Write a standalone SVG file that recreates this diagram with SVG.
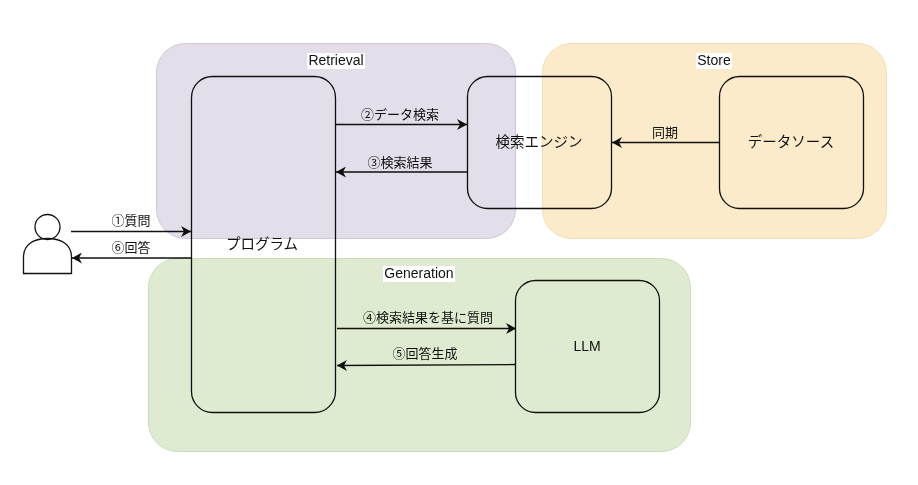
<svg xmlns="http://www.w3.org/2000/svg" width="918" height="485" viewBox="0 0 918 485">
<defs>
<marker id="arrow" viewBox="0 0 10 11" refX="10" refY="5.5" markerWidth="10" markerHeight="11" markerUnits="userSpaceOnUse" orient="auto"><path d="M0 0L10 5.500L0 11L3 5.500Z" fill="#111"/></marker>
</defs>
<style>
text{font-family:"Liberation Sans","Noto Sans CJK JP",sans-serif;text-anchor:middle;fill:#111}
.n{fill:none;stroke:#111;stroke-width:1.300}
.c{fill:none;stroke:#111;stroke-width:1.300;marker-end:url(#arrow)}
.s{font-size:13px}
.m{font-size:14.500px}
.g{mix-blend-mode:multiply;stroke-width:1}
.rt{font-size:14px}
.lb{fill:#fff}
</style>
<rect width="918" height="485" fill="#fff"/>
<g id="program"><rect class="n" x="191.500" y="76.500" width="144" height="336" rx="21"/><text class="m" x="262" y="249">プログラム</text></g>
<g id="search-engine"><rect class="n" x="467.500" y="76.500" width="144" height="132" rx="20"/><text class="m" x="539" y="147">検索エンジン</text></g>
<g id="data-source"><rect class="n" x="719.500" y="76.500" width="144" height="132" rx="20"/><text class="m" x="791" y="147">データソース</text></g>
<g id="llm"><rect class="n" x="515.500" y="280.500" width="144" height="132" rx="20"/><text class="rt" x="587" y="351">LLM</text></g>
<g id="user"><circle class="n" cx="47.500" cy="227" r="12.500"/><path class="n" d="M23.500 273.500V257C23.500 245 33 238.500 47.500 238.500S71.500 245 71.500 257V273.500Z"/></g>
<g id="connectors">
<path class="c" d="M71 231.500H191"/><text class="s" x="131" y="225">①質問</text>
<path class="c" d="M191 258H72"/><text class="s" x="131" y="252">⑥回答</text>
<path class="c" d="M336 124.500H467"/><text class="s" x="400" y="119">②データ検索</text>
<path class="c" d="M467 172H336"/><text class="s" x="400" y="167">③検索結果</text>
<path class="c" d="M719 142.500H612"/><text class="s" x="665" y="137">同期</text>
<path class="c" d="M337 328.500H516"/><text class="s" x="428" y="322">④検索結果を基に質問</text>
<path class="c" d="M515 364.500L337 365.500"/><text class="s" x="425" y="358">⑤回答生成</text>
</g>
<g id="retrieval"><rect class="g" x="156.500" y="43.500" width="359" height="195" rx="29" fill="#e4ddea" stroke="#cfc6d6"/><rect class="lb" x="307" y="53" width="58" height="16"/><text class="rt" x="336" y="65">Retrieval</text></g>
<g id="store"><rect class="g" x="542.500" y="43.500" width="344" height="195" rx="29" fill="#fbebca" stroke="#f3deb4"/><rect class="lb" x="696" y="53" width="36" height="16"/><text class="rt" x="714" y="65">Store</text></g>
<g id="generation"><rect class="g" x="148.500" y="258.500" width="542" height="193" rx="29" fill="#dfebd0" stroke="#c9dcb8"/><rect class="lb" x="383" y="266" width="72" height="16"/><text class="rt" x="419" y="278">Generation</text></g>
</svg>
